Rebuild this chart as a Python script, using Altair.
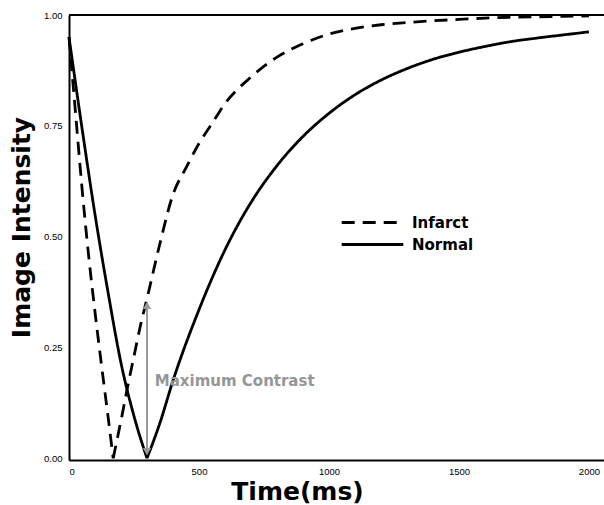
import altair as alt
import pandas as pd

# ---- data ----
t_normal = [0, 50, 100, 150, 200, 250, 300, 350, 400, 500, 600, 700, 800, 900,
            1000, 1100, 1200, 1300, 1400, 1500, 1600, 1700, 1800, 1900, 2000]
v_normal = [0.95, 0.745, 0.55, 0.375, 0.215, 0.095, 0.0, 0.08, 0.175, 0.335,
            0.47, 0.577, 0.66, 0.726, 0.778, 0.82, 0.853, 0.879, 0.90, 0.916,
            0.929, 0.94, 0.948, 0.955, 0.962]
null_normal = 300

t_infarct = [0, 25, 50, 75, 100, 125, 150, 170, 200, 225, 250, 275, 300, 350,
             400, 450, 500, 550, 600, 700, 800, 900, 1000, 1100, 1200, 1300,
             1400, 1500, 1600, 1700, 1800, 1900, 2000]
v_infarct = [0.95, 0.78, 0.61, 0.46, 0.33, 0.21, 0.095, 0.0, 0.085, 0.16, 0.23,
             0.30, 0.36, 0.485, 0.595, 0.655, 0.71, 0.755, 0.80, 0.86, 0.905,
             0.935, 0.957, 0.97, 0.978, 0.983, 0.987, 0.99, 0.993, 0.995, 0.996,
             0.997, 0.998]
null_infarct = 170

series_names = ["Infarct", "Normal"]
x_ticks = [0, 500, 1000, 1500, 2000]
y_ticks = [0, 0.25, 0.5, 0.75, 1.0]

arrow_t = 300
arrow_low = 0.0
arrow_high = 0.36
annot_text = "Maximum Contrast"
annot_t = 330
annot_v = 0.175


# ---- tables (each curve split at its null so both branches stay sharp there) ----
def branches(ts, vs, tnull, name):
    rows = []
    for t, v in zip(ts, vs):
        if t <= tnull:
            rows.append({"t": t, "v": v, "series": name, "seg": name + "-a"})
        if t >= tnull:
            rows.append({"t": t, "v": v, "series": name, "seg": name + "-b"})
    return rows


df = pd.DataFrame(branches(t_infarct, v_infarct, null_infarct, series_names[0])
                  + branches(t_normal, v_normal, null_normal, series_names[1]))
arrow_df = pd.DataFrame({"t": [arrow_t], "v": [arrow_low + 0.02], "v2": [arrow_high - 0.02]})
head_df = pd.DataFrame({
    "t": [arrow_t, arrow_t],
    "v": [arrow_high - 0.015, arrow_low + 0.015],
    "shape": ["triangle-up", "triangle-down"],
})
annot_df = pd.DataFrame({"t": [annot_t], "v": [annot_v], "label": [annot_text]})

xscale = alt.Scale(domain=[0, 2058], nice=False, zero=False)
yscale = alt.Scale(domain=[-0.004, 1.0], nice=False, zero=False)

FONT_T = "DejaVu Sans"
FONT_L = "Liberation Sans"

lines = alt.Chart(df).mark_line(color="black", strokeWidth=2.8, interpolate="monotone").encode(
    x=alt.X("t:Q", scale=xscale,
            axis=alt.Axis(values=x_ticks, format="d", title="Time(ms)", grid=False, ticks=False,
                          domainColor="black", domainWidth=2, labelFont=FONT_L,
                          labelFontSize=9.5, labelColor="black", labelPadding=6,
                          titleFont=FONT_T, titleFontSize=25, titleFontWeight="bold",
                          titleColor="black", titlePadding=4, titleX=228)),
    y=alt.Y("v:Q", scale=yscale,
            axis=alt.Axis(values=y_ticks, format=".2f", title="Image Intensity",
                          grid=False, ticks=False, domainColor="black", domainWidth=2,
                          labelFont=FONT_L, labelFontSize=9.5, labelColor="black",
                          labelPadding=7, titleFont=FONT_T, titleFontSize=25,
                          titleFontWeight="bold", titleColor="black", titlePadding=9,
                          titleY=212)),
    strokeDash=alt.StrokeDash(
        "series:N",
        scale=alt.Scale(domain=series_names, range=[[13, 8], [1, 0]]),
        legend=alt.Legend(title=None, orient="none", legendX=295, legendY=199,
                          symbolType="M-4.4,0H4.4", symbolSize=196, symbolStrokeWidth=3,
                          symbolStrokeColor="black", labelFont=FONT_T,
                          labelFontSize=15, labelFontWeight="bold",
                          labelColor="black", labelOffset=31, rowPadding=5,
                          padding=0),
    ),
    detail="seg:N",
    order="t:Q",
)

top_line = alt.Chart(pd.DataFrame({"v": [1.0]})).mark_rule(
    color="black", strokeWidth=2).encode(y=alt.Y("v:Q", scale=yscale))

arrow = alt.Chart(arrow_df).mark_rule(color="#999999", strokeWidth=2).encode(
    x=alt.X("t:Q", scale=xscale), y=alt.Y("v:Q", scale=yscale), y2="v2:Q")

heads = alt.Chart(head_df).mark_point(filled=True, color="#999999", size=70, opacity=1).encode(
    x=alt.X("t:Q", scale=xscale), y=alt.Y("v:Q", scale=yscale),
    shape=alt.Shape("shape:N", scale=None, legend=None))

annot = alt.Chart(annot_df).mark_text(
    align="left", baseline="middle", font=FONT_T, fontSize=15,
    fontWeight="bold", color="#969696").encode(
    x=alt.X("t:Q", scale=xscale), y=alt.Y("v:Q", scale=yscale), text="label:N")

chart = alt.layer(lines, top_line, arrow, heads, annot).properties(
    width=535, height=445,
    autosize=alt.AutoSizeParams(type="none"),
    padding={"left": 69, "top": 15, "right": 0, "bottom": 45},
).configure_view(stroke=None).configure(background="white")

chart.save("out.html", embed_options={"renderer": "svg", "actions": False})
